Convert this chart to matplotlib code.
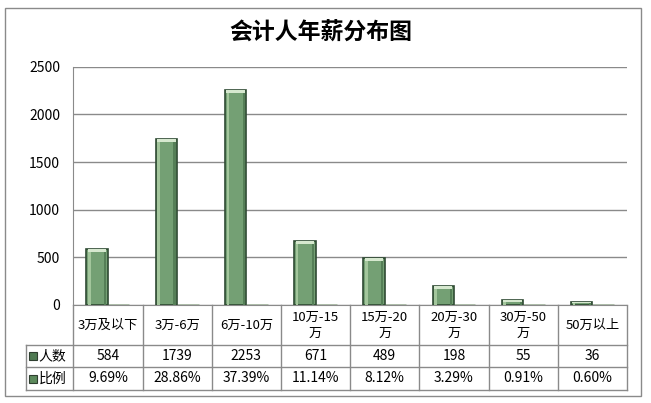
import numpy as np
import matplotlib
matplotlib.use('Agg')
import matplotlib.pyplot as plt
from matplotlib.patches import Rectangle

plt.rcParams['font.family'] = ['Noto Sans CJK SC', 'DejaVu Sans']

# 数据
categories = ['3万及以下', '3万-6万', '6万-10万', '10万-15\n万', '15万-20\n万',
              '20万-30\n万', '30万-50\n万', '50万以上']
people = [584, 1739, 2253, 671, 489, 198, 55, 36]
ratio = [9.69, 28.86, 37.39, 11.14, 8.12, 3.29, 0.91, 0.60]   # 百分比
row_names = ['人数', '比例']
yticks = [0, 500, 1000, 1500, 2000, 2500]

W, H = 651, 403
fig = plt.figure(figsize=(W / 100, H / 100), dpi=100)

# 背景层：外框、标题、数据表（像素坐标）
bg = fig.add_axes([0, 0, 1, 1])
bg.set_xlim(0, W)
bg.set_ylim(H, 0)
bg.axis('off')
bg.add_patch(Rectangle((4.5, 8), 636.5, 388, fill=False, ec='#8a8a8a', lw=1))
bg.text(321, 33, '会计人年薪分布图', fontsize=16.5, fontweight='bold',
        ha='center', va='center')

x0, x1 = 73.3, 627
y_top, y_axis, y_hdr, y_r1, y_r2 = 66.7, 305, 345, 367, 390
tab_left = 26

# 主图
ax = fig.add_axes([x0 / W, 1 - y_axis / H, (x1 - x0) / W, (y_axis - y_top) / H])
ax.set_facecolor('none')
n = len(categories)
idx = np.arange(n)
w = 0.31
ratio_frac = [r / 100 for r in ratio]

ax.bar(idx - w / 2, people, width=w, color='#74a074', edgecolor='#2f4a33', lw=1.2, zorder=3)
# 斜面高光
cap = [min(28, v * 0.35) for v in people]
ax.bar(idx - w / 2 - w * 0.36, [v - c for v, c in zip(people, cap)], width=w * 0.12,
       color='#a3c69c', edgecolor='none', zorder=4)
ax.bar(idx - w / 2 + w * 0.38, [v - c for v, c in zip(people, cap)], width=w * 0.1,
       color='#557f57', edgecolor='none', zorder=4)
ax.bar(idx - w / 2, cap, bottom=[v - c for v, c in zip(people, cap)], width=w * 0.86,
       color='#d6e8cf', edgecolor='none', zorder=4)
ax.bar(idx + w / 2, ratio_frac, width=w, color='#b8c7b0', edgecolor='#a9b9a3', lw=2, zorder=2)

ax.set_xlim(-0.5, n - 0.5)
ax.set_ylim(0, 2500)
ax.set_yticks(yticks)
ax.set_xticks([])
ax.tick_params(axis='y', length=0, pad=9.5, labelsize=10)
ax.yaxis.grid(True, color='#8a8a8a', lw=1)
ax.set_axisbelow(True)
for s in ['top', 'right']:
    ax.spines[s].set_visible(False)
ax.spines['left'].set_color('#8a8a8a')
ax.spines['bottom'].set_color('#8a8a8a')

# 数据表
cw = (x1 - x0) / n
lc = '#8a8a8a'
for y in [y_hdr, y_r1, y_r2]:
    bg.plot([tab_left, x1], [y, y], color=lc, lw=1)
for i in range(n + 1):
    xx = x0 + i * cw
    bg.plot([xx, xx], [y_axis, y_r2], color=lc, lw=1)
bg.plot([tab_left, tab_left], [y_hdr, y_r2], color=lc, lw=1)

for i, cat in enumerate(categories):
    cx = x0 + (i + 0.5) * cw
    bg.text(cx, (y_axis + y_hdr) / 2, cat, ha='center', va='center', fontsize=9.5,
            linespacing=1.3)
    bg.text(cx, (y_hdr + y_r1) / 2, str(people[i]), ha='center', va='center', fontsize=10)
    bg.text(cx, (y_r1 + y_r2) / 2, '%.2f%%' % ratio[i], ha='center', va='center', fontsize=10)

for j, (name, yy) in enumerate(zip(row_names, [(y_hdr + y_r1) / 2, (y_r1 + y_r2) / 2])):
    fc = '#4f7a52' if j == 0 else '#5c8a5c'
    bg.add_patch(Rectangle((28.5, yy - 4), 8, 8, fc=fc, ec='#2f3f30', lw=0.8))
    bg.text(38.5, yy, name, ha='left', va='center', fontsize=10)

fig.savefig('out.png', dpi=100)
